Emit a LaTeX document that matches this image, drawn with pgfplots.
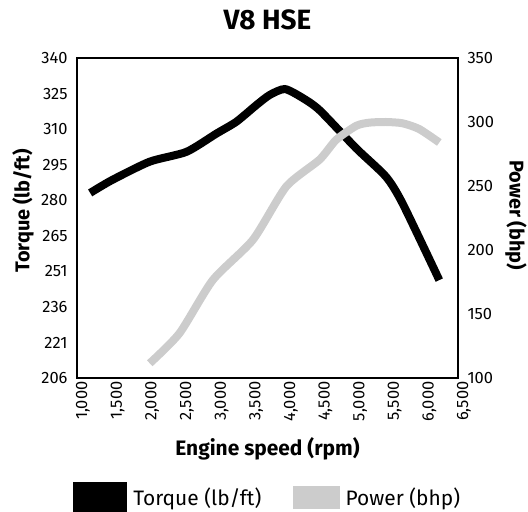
\documentclass[border=0pt]{standalone}
\usepackage{fontspec}
\setmainfont{Fira Sans}
\usepackage{pgfplots}
\pgfplotsset{compat=1.18}
\definecolor{powergray}{HTML}{CCCCCC}
\begin{document}
\begin{tikzpicture}
\path[use as bounding box] (-77bp,-134bp) rectangle (451bp,378bp);
\begin{axis}[
  at={(0,0)}, anchor=south west,
  scale only axis, width=381bp, height=320bp,
  xmin=1000, xmax=6500, ymin=206, ymax=340,
  axis line style={line width=1.5bp},
  major tick length=0pt,
  xtick={1000,1500,...,6500},
  ytick={206,220.889,235.778,250.667,265.556,280.444,295.333,310.222,325.111,340},
  yticklabels={206,221,236,251,265,280,295,310,325,340},
  ytick pos=left, xtick pos=bottom,
  /pgf/number format/.cd, 1000 sep={,}, assume math mode=true,
  /pgfplots/.cd,
  tick label style={font=\fontsize{16.5}{18}\selectfont},
  xticklabel style={rotate=90, anchor=east, yshift=-6bp},
  yticklabel style={xshift=-6bp},
  xlabel={Engine speed (rpm)},
  xlabel style={at={(axis description cs:0.5,-0.222)}, anchor=center, font=\bfseries\fontsize{21}{24}\selectfont},
  ylabel={Torque (lb/ft)},
  ylabel style={at={(axis description cs:-0.1417,0.522)}, anchor=center, font=\bfseries\fontsize{20}{23}\selectfont},
  title={V8 HSE},
  title style={at={(axis description cs:0.5,1.10)}, anchor=center, font=\bfseries\fontsize{28}{31}\selectfont},
  legend columns=2,
  legend image code/.code={\fill (0bp,-11bp) rectangle (46bp,11bp);},
  legend style={at={(axis description cs:-0.01,-0.372)}, anchor=west, draw=none, inner sep=0pt,
    font=\fontsize{21}{24}\selectfont, cells={anchor=west},
    /tikz/every odd column/.append style={column sep=4bp},
    /tikz/every even column/.append style={column sep=30bp}},
]
\addplot[color=black, line width=8bp, smooth, tension=0.4] coordinates {
(1190,283.5) (1500,288.8) (2050,296.6) (2580,300.7) (3010,308.3) (3300,313.3)
(3590,320.3) (3780,324.5) (4000,327) (4250,323.4) (4500,318.2) (5030,302.2)
(5460,290.3) (5700,279.1) (6230,247)
};
\addlegendentry{Torque (lb/ft)}
\addlegendimage{color=powergray}
\addlegendentry{Power (bhp)}
\end{axis}
\begin{axis}[
  at={(0,0)}, anchor=south west,
  scale only axis, width=381bp, height=320bp,
  xmin=1000, xmax=6500, ymin=100, ymax=350,
  axis x line=none, axis y line*=right,
  axis line style={line width=1.5bp},
  major tick length=0pt,
  ytick={100,150,...,350},
  /pgf/number format/.cd, assume math mode=true,
  /pgfplots/.cd,
  tick label style={font=\fontsize{16.5}{18}\selectfont},
  yticklabel style={xshift=6bp},
  ylabel={Power (bhp)},
  ylabel style={at={(axis description cs:1.152,0.509)}, anchor=center, rotate=180, font=\bfseries\fontsize{20}{23}\selectfont},
]
\addplot[color=powergray, line width=8bp, smooth, tension=0.4] coordinates {
(2050,111.5) (2480,135) (2960,176.5) (3540,208) (4020,249.5) (4500,270.5)
(4740,286) (5030,297) (5220,299.5) (5460,300) (5700,299) (5940,294.5) (6230,284)
};
\end{axis}
\end{tikzpicture}
\end{document}
